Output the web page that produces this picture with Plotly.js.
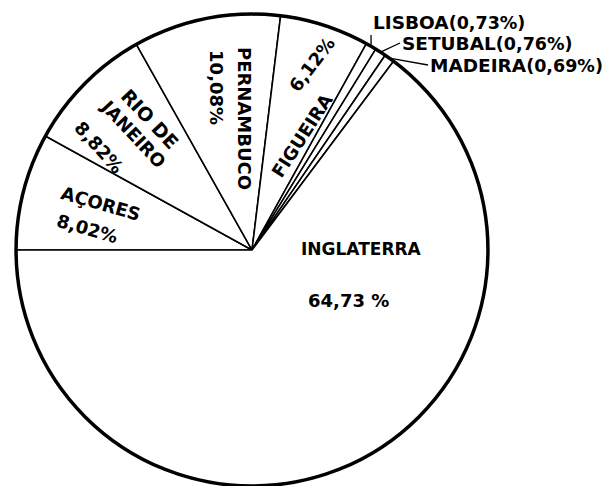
<!DOCTYPE html>
<html><head><meta charset="utf-8">
<script src="https://cdn.plot.ly/plotly-3.0.1.min.js"></script>
<style>html,body{margin:0;padding:0;background:#fff}</style>
</head><body><div id="chart" style="width:605px;height:486px"></div>
<script>
// ---- data ----
const categories = ["AÇORES", "RIO DE JANEIRO", "PERNAMBUCO", "FIGUEIRA", "LISBOA", "SETUBAL", "MADEIRA", "INGLATERRA"];
const shares = [8.02, 8.82, 10.08, 6.12, 0.73, 0.76, 0.69, 64.73];
const shareLabels = ["8,02%", "8,82%", "10,08%", "6,12%", "(0,73%)", "(0,76%)", "(0,69%)", "64,73\u00a0%"];

// ---- layout geometry ----
const W = 605, H = 486;
const dom = {x: [16 / W, 488 / W], y: [0, 0.971]};
const cx = (dom.x[0] + dom.x[1]) / 2 * W;
const cy = H - (dom.y[0] + dom.y[1]) / 2 * H;
const R = Math.min((dom.x[1] - dom.x[0]) * W, (dom.y[1] - dom.y[0]) * H) / 2;
const FONT = "DejaVu Sans, Arial, sans-serif";

// angle measured clockwise from 9 o'clock (pie starts there), radius as fraction of R
function polar(angDeg, rFrac) {
  const a = (180 + angDeg) * Math.PI / 180;
  const px = cx + rFrac * R * Math.cos(a);
  const py = cy + rFrac * R * Math.sin(a);
  return {x: px / W, y: 1 - py / H, px: px, py: py};
}

const total = shares.reduce((a, b) => a + b, 0);
const midAng = [];
let acc = 0;
shares.forEach(v => { midAng.push((acc + v / 2) / total * 360); acc += v; });

// inside labels: [text, angle, radius fraction, rotation, size]
const inside = [
  ["AÇORES", 17.0, 0.671, 16, 18],
  [shareLabels[0], 7.3, 0.705, 16, 18],
  ["RIO\u00a0DE", 52.0, 0.703, 47, 19],
  ["JANEIRO", 44.3, 0.705, 47, 18],
  [shareLabels[1], 34.0, 0.78, 48, 18],
  ["PERNAMBUCO", 87.0, 0.560, 90, 18],
  [shareLabels[2], 77.9, 0.706, 90, 18],
  ["FIGUEIRA", 113.5, 0.531, -57, 18],
  [shareLabels[3], 107.9, 0.825, -53, 18],
  ["INGLATERRA", 179.5, 0.466, 0, 17],
  [shareLabels[7], 207.5, 0.459, 0, 18]
];

const annotations = inside.map(l => {
  const p = polar(l[1], l[2]);
  return {x: p.x, y: p.y, xref: "paper", yref: "paper", text: l[0], showarrow: false,
    textangle: l[3], xanchor: "center", yanchor: "middle",
    font: {family: FONT, size: l[4], color: "#000", weight: "bold"}};
});

// small slices with leader lines: index, label anchor position (px), vertical anchor
const outside = [[4, 371, 35, "bottom"], [5, 400, 43, "middle"], [6, 428, 65, "middle"]];
outside.forEach(o => {
  const i = o[0];
  const head = polar(midAng[i], 1.0);
  annotations.push({
    x: head.x, y: head.y, xref: "paper", yref: "paper",
    text: categories[i] + '<span style="font-size:17.5px">' + shareLabels[i] + '</span>',
    showarrow: true, arrowhead: 0, arrowwidth: 1.3, arrowcolor: "#000",
    ax: o[1] - head.px, ay: o[2] - head.py, xanchor: "left", yanchor: o[3],
    font: {family: FONT, size: 18.5, color: "#000", weight: "bold"}
  });
});

const data = [
  {type: "pie", values: shares, labels: categories, sort: false, direction: "clockwise",
   rotation: 270, textinfo: "none", domain: dom, hoverinfo: "none",
   marker: {colors: categories.map(() => "#fff"), line: {color: "#000", width: 1.6}}},
  {type: "pie", values: [total], labels: ["outline"], sort: false, textinfo: "none",
   domain: dom, hoverinfo: "none",
   marker: {colors: ["rgba(0,0,0,0)"], line: {color: "#000", width: 3.5}}}
];

const layout = {width: W, height: H, margin: {l: 0, r: 0, t: 0, b: 0},
  paper_bgcolor: "#fff", plot_bgcolor: "#fff", showlegend: false, annotations: annotations};

Plotly.newPlot("chart", data, layout, {staticPlot: true, displayModeBar: false});
</script></body></html>
